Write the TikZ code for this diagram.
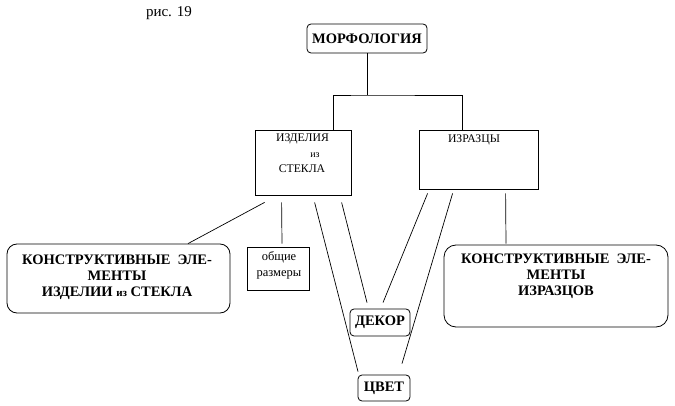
\documentclass[tikz,border=0pt]{standalone}
\usepackage{fontspec}
\setmainfont{Liberation Serif}
\begin{document}
\begin{tikzpicture}[x=1pt,y=-1pt,line width=0.8pt,
  box/.style={draw,rectangle,inner sep=0pt},
  rbox/.style={draw,rectangle,rounded corners=#1,inner sep=0pt},
  rbox/.default=4pt,
  bigf/.style={font=\fontsize{14.5}{16}\selectfont\bfseries},
  big/.style={bigf,align=center,inner sep=0pt},
  small/.style={font=\fontsize{11.7}{13}\selectfont,inner sep=0pt},
  tiny/.style={font=\fontsize{12.5}{16}\selectfont,inner sep=0pt,align=center},
  conn/.style={line width=0.7pt}]
\useasboundingbox (0,0) rectangle (675,406);
\node[font=\fontsize{15}{17}\selectfont,inner sep=0pt] (fig) at (169,13) {рис. 19};
\node[rbox,bigf,minimum width=120pt,minimum height=29pt] (morph) at (367,38.5) {МОРФОЛОГИЯ};
\node[box,minimum width=96pt,minimum height=65pt] (izd) at (303,162.5) {};
\node[small] (izdt1) at (302.5,139) {ИЗДЕЛИЯ};
\node[inner sep=0pt,font=\fontsize{10}{12}\selectfont] (izdt2) at (315,155) {из};
\node[small] (izdt3) at (302,169) {СТЕКЛА};
\node[box,minimum width=119pt,minimum height=59pt] (izr) at (478.5,159.5) {};
\node[small] (izrt) at (474,140) {ИЗРАЗЦЫ};
\node[rbox=10pt,minimum width=223pt,minimum height=69pt] (kl) at (118.5,278.5) {};
\node[big] (klt) at (117,277) {КОНСТРУКТИВНЫЕ\ \ ЭЛЕ-\\МЕНТЫ\\ИЗДЕЛИИ {\fontsize{11}{16}\selectfont из} СТЕКЛА};
\node[box,minimum width=62pt,minimum height=43pt] (ob) at (278,268.5) {};
\node[tiny] (obt) at (279,265) {общие\\размеры};
\node[rbox,bigf,minimum width=60pt,minimum height=27pt] (dek) at (380,322.5) {ДЕКОР};
\node[rbox,bigf,minimum width=52pt,minimum height=26pt] (cv) at (384,388) {ЦВЕТ};
\node[rbox=12pt,minimum width=224pt,minimum height=82pt] (kr) at (556,286) {};
\node[big] (krt) at (556,276) {КОНСТРУКТИВНЫЕ\ \ ЭЛЕ-\\МЕНТЫ\\ИЗРАЗЦОВ};
\coordinate (j) at (368,95);
\draw[conn] (morph.south) -- (morph.south |- j);
\draw[conn] ([xshift=30pt]izd.north) |- (j) -| ([xshift=-16.5pt]izr.north);
\draw[conn] ([shift={(10,7)}]izd.south west) -- ([shift={(69.5,0)}]kl.north);
\draw[conn] ([shift={(27,7)}]izd.south west) -- ([shift={(4,-3)}]ob.north);
\draw[conn] ([shift={(60,7)}]izd.south west) -- ([shift={(-26,-3)}]cv.north);
\draw[conn] ([shift={(87,7)}]izd.south west) -- ([shift={(-13,-6)}]dek.north);
\draw[conn] ([shift={(9,4)}]izr.south west) -- ([shift={(3,-6)}]dek.north);
\draw[conn] ([shift={(34,4)}]izr.south west) -- ([shift={(18,-11)}]cv.north);
\draw[conn] ([shift={(87,4)}]izr.south west) -- ([shift={(-50,-1)}]kr.north);
\end{tikzpicture}
\end{document}
